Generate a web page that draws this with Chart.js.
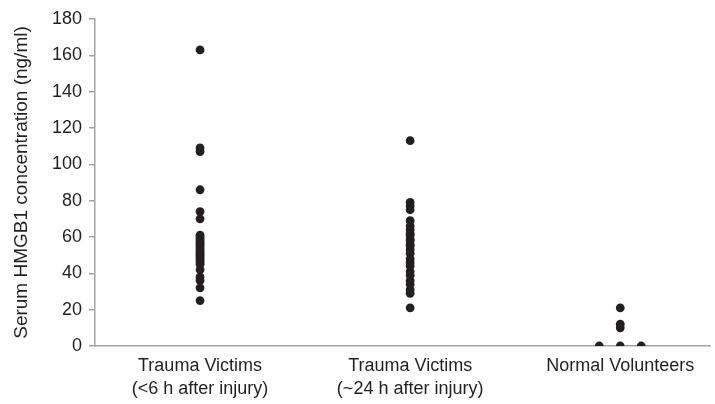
<!DOCTYPE html>
<html><head><meta charset="utf-8">
<script src="https://cdn.jsdelivr.net/npm/chart.js@4"></script>
<style>html,body{margin:0;padding:0;background:#fff;}#wrap{width:715px;height:404px;}</style>
</head><body><div id="wrap"><canvas id="c" width="715" height="404"></canvas></div>
<script>
// Category labels (x axis)
const groupLabels = [
  ["Trauma Victims", "(<6 h after injury)"],
  ["Trauma Victims", "(~24 h after injury)"],
  ["Normal Volunteers"]
];
// Serum HMGB1 (ng/ml), trauma victims <6 h after injury
const earlyValues = [163, 109, 107, 86, 74, 70, 61, 60, 59, 58, 57, 56, 55, 54, 53, 52, 51, 50, 49, 48, 47, 46, 45, 42, 38, 36, 32, 25];
// Serum HMGB1 (ng/ml), trauma victims ~24 h after injury
const lateValues = [113, 79, 77, 75, 69, 66, 64, 62, 61, 59, 58, 56, 55, 53, 51, 48, 46, 44, 41, 39, 36, 34, 31, 29, 21];
// Serum HMGB1 (ng/ml), normal volunteers
const normalValues = [0, 21, 12, 10, 0, 0];
// horizontal spread of overlapping normal-volunteer points (in category units)
const normalSpread = [-0.1, 0, 0, 0, 0, 0.1];
// y axis ticks
const yTickValues = [0, 20, 40, 60, 80, 100, 120, 140, 160, 180];

const DARK = '#231f20';
const AXIS = '#a3a3a3';

function toPoints(values, group, spread) {
  return values.map((v, i) => ({ x: group + 0.5 + (spread ? spread[i] : 0), y: v }));
}

const ds = (data) => ({
  data, backgroundColor: DARK, borderColor: DARK, pointRadius: 4.4, pointBorderWidth: 0, showLine: false
});

new Chart(document.getElementById('c'), {
  type: 'scatter',
  data: {
    datasets: [
      ds(toPoints(earlyValues, 0)),
      ds(toPoints(lateValues, 1)),
      ds(toPoints(normalValues, 2, normalSpread))
    ]
  },
  options: {
    responsive: false,
    animation: false,
    devicePixelRatio: 1,
    layout: { padding: { top: 19, right: 0, left: 0, bottom: 0 } },
    plugins: { legend: { display: false }, tooltip: { enabled: false } },
    scales: {
      x: {
        type: 'linear',
        min: 0,
        max: 2.93,
        afterBuildTicks: (s) => { s.ticks = groupLabels.map((_, i) => ({ value: i + 0.5 })); },
        afterFit: (s) => { s.height = 58; },
        grid: { display: false },
        border: { display: true, color: AXIS, width: 1.5 },
        ticks: {
          autoSkip: false, maxRotation: 0, padding: 1,
          color: DARK,
          font: { family: 'Liberation Sans, Arial, sans-serif', size: 18, lineHeight: 1.25 },
          callback: (v, i) => groupLabels[i]
        }
      },
      y: {
        min: 0,
        max: 180,
        afterBuildTicks: (s) => { s.ticks = yTickValues.map(v => ({ value: v })); },
        afterFit: (s) => { s.width = 95; },
        grid: { drawOnChartArea: false, drawTicks: true, tickLength: 6, color: AXIS, lineWidth: 1.5 },
        border: { display: true, color: AXIS, width: 1.5 },
        ticks: {
          padding: 7, color: DARK,
          font: { family: 'Liberation Sans, Arial, sans-serif', size: 18 }
        },
        title: {
          display: true,
          text: 'Serum HMGB1 concentration (ng/ml)',
          color: DARK,
          font: { family: 'Liberation Sans, Arial, sans-serif', size: 19 },
          padding: { top: 10, bottom: 0 }
        }
      }
    }
  }
});
</script></body></html>
